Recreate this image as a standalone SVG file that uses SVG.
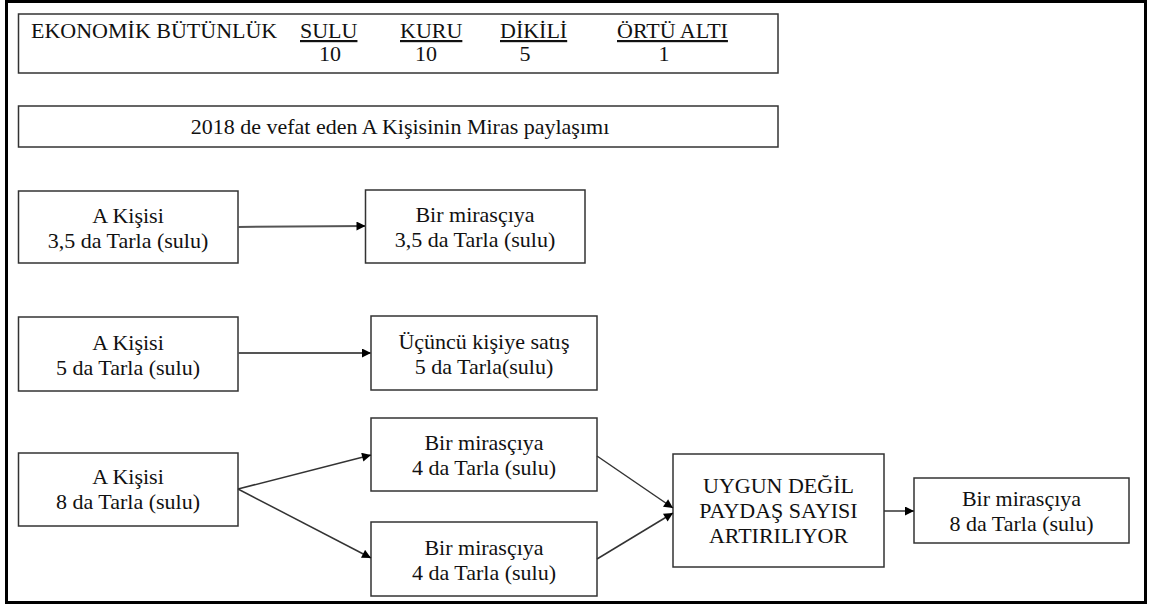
<svg xmlns="http://www.w3.org/2000/svg" width="1152" height="608" viewBox="0 0 1152 608">
<defs>
<style>
.box{fill:#fff;stroke:#333;stroke-width:1.5}
.t{font-family:"Liberation Serif","Times New Roman",serif;font-size:22px;fill:#111}
.c{text-anchor:middle}
.u{text-decoration:underline}
.ln{stroke:#333;stroke-width:1.5;fill:none}
.lg{stroke:#555;stroke-width:2;fill:none}
</style>
<marker id="ah" viewBox="0 0 10 10" refX="10" refY="5" markerWidth="10" markerHeight="9" markerUnits="userSpaceOnUse" orient="auto">
<path d="M0,0 L10,5 L0,10 z" fill="#000"/>
</marker>
</defs>
<rect x="0" y="0" width="1152" height="608" fill="#fff"/>
<rect x="6.5" y="1.5" width="1139" height="601" fill="none" stroke="#000" stroke-width="3"/>

<g id="header">
<rect class="box" x="18.5" y="14" width="759.5" height="59"/>
<text class="t" x="31" y="38">EKONOMİK BÜTÜNLÜK</text>
<text class="t u" x="300" y="38">SULU</text>
<text class="t c" x="330" y="61">10</text>
<text class="t u" x="400" y="38">KURU</text>
<text class="t c" x="426" y="61">10</text>
<text class="t u" x="500" y="38">DİKİLİ</text>
<text class="t c" x="525" y="61">5</text>
<text class="t u" x="617" y="38">ÖRTÜ ALTI</text>
<text class="t c" x="664" y="61">1</text>
</g>

<g id="title">
<rect class="box" x="18.5" y="106" width="759.5" height="41"/>
<text class="t c" x="400" y="134">2018 de vefat eden A Kişisinin Miras paylaşımı</text>
</g>

<g id="n1a">
<rect class="box" x="18.5" y="191" width="219.5" height="72"/>
<text class="t c" x="128" y="223">A Kişisi</text>
<text class="t c" x="128" y="248">3,5 da Tarla (sulu)</text>
</g>
<g id="n1b">
<rect class="box" x="365.5" y="190" width="219.5" height="73"/>
<text class="t c" x="475" y="222">Bir mirasçıya</text>
<text class="t c" x="475" y="247">3,5 da Tarla (sulu)</text>
</g>

<g id="n2a">
<rect class="box" x="18.5" y="317" width="219.5" height="74"/>
<text class="t c" x="128" y="350">A Kişisi</text>
<text class="t c" x="128" y="375">5 da Tarla (sulu)</text>
</g>
<g id="n2b">
<rect class="box" x="371" y="316" width="226" height="74"/>
<text class="t c" x="484" y="349">Üçüncü kişiye satış</text>
<text class="t c" x="484" y="374">5 da Tarla(sulu)</text>
</g>

<g id="n3a">
<rect class="box" x="18.5" y="453" width="219.5" height="73"/>
<text class="t c" x="128" y="484">A Kişisi</text>
<text class="t c" x="128" y="509">8 da Tarla (sulu)</text>
</g>
<g id="n3b">
<rect class="box" x="371" y="418" width="226" height="73"/>
<text class="t c" x="484" y="450">Bir mirasçıya</text>
<text class="t c" x="484" y="475">4 da Tarla (sulu)</text>
</g>
<g id="n3c">
<rect class="box" x="371" y="522" width="226" height="74"/>
<text class="t c" x="484" y="555">Bir mirasçıya</text>
<text class="t c" x="484" y="580">4 da Tarla (sulu)</text>
</g>

<g id="n4">
<rect class="box" x="673" y="454" width="211" height="113"/>
<text class="t c" x="778.5" y="493">UYGUN DEĞİL</text>
<text class="t c" x="778.5" y="518">PAYDAŞ SAYISI</text>
<text class="t c" x="778.5" y="543">ARTIRILIYOR</text>
</g>
<g id="n5">
<rect class="box" x="914" y="478" width="215" height="65"/>
<text class="t c" x="1021.5" y="506">Bir mirasçıya</text>
<text class="t c" x="1021.5" y="531">8 da Tarla (sulu)</text>
</g>

<g id="connectors">
<line class="lg" x1="238" y1="227" x2="365.5" y2="226" marker-end="url(#ah)"/>
<line class="lg" x1="238" y1="353" x2="371" y2="353" marker-end="url(#ah)"/>
<line class="ln" x1="238" y1="489" x2="371" y2="455" marker-end="url(#ah)"/>
<line class="ln" x1="238" y1="489" x2="371" y2="558" marker-end="url(#ah)"/>
<line class="ln" x1="597" y1="456" x2="673" y2="508" marker-end="url(#ah)"/>
<line class="ln" x1="597" y1="559" x2="673" y2="513" marker-end="url(#ah)"/>
<line class="ln" x1="884" y1="511" x2="914" y2="511" marker-end="url(#ah)"/>
</g>
</svg>
